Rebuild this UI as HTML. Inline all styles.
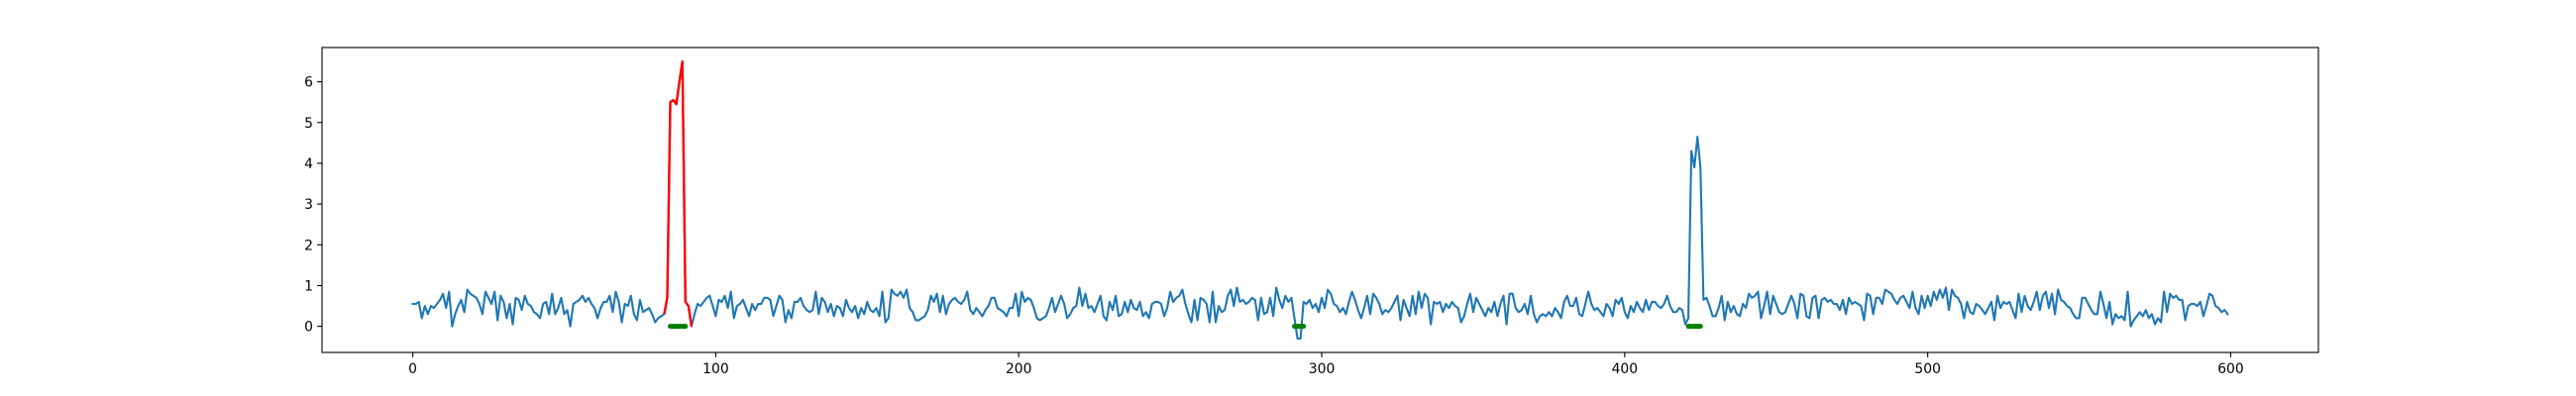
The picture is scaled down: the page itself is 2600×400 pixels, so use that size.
<!DOCTYPE html>
<html><head><meta charset="utf-8"><style>
html,body{margin:0;padding:0;background:#fff}
svg{display:block}
text{font-family:"DejaVu Sans","Liberation Sans",sans-serif;font-size:13.9px;fill:#000}
</style></head><body>
<svg id="chart" width="2600" height="400" xmlns="http://www.w3.org/2000/svg">
<rect x="0" y="0" width="2600" height="400" fill="#fff"/>
<g id="plot"></g>
</svg>
<script>
const values = [
.55,.55,.6,.2,.5,.3,.5,.45,.55,.65,
.8,.45,.85,0,.3,.5,.65,.35,.9,.8,
.75,.7,.55,.3,.85,.7,.55,.85,.15,.75,
.6,.2,.55,.05,.7,.65,.4,.75,.55,.5,
.35,.3,.2,.55,.6,.3,.8,.3,.45,.7,
.3,.4,0,.55,.6,.65,.75,.6,.7,.55,
.45,.2,.45,.6,.6,.75,.35,.85,.6,.1,
.55,.5,.75,.3,.15,.65,.35,.4,.45,.3,
.1,.2,.25,.3,.7,5.5,5.55,5.45,6.0,6.5,
.6,.5,0,.3,.55,.5,.6,.7,.75,.5,
.25,.65,.6,.75,.45,.85,.2,.5,.55,.65,
.45,.25,.55,.4,.55,.55,.7,.7,.65,.25,
.5,.75,.65,.1,.4,.2,.6,.6,.7,.5,
.4,.35,.4,.85,.3,.7,.6,.35,.55,.25,
.5,.45,.25,.65,.45,.35,.5,.2,.45,.3,
.6,.4,.35,.45,.25,.85,.1,.2,.9,.8,
.75,.85,.7,.9,.45,.35,.15,.15,.2,.25,
.4,.75,.6,.8,.35,.75,.3,.55,.65,.7,
.6,.55,.65,.85,.4,.3,.45,.35,.25,.4,
.5,.7,.7,.45,.4,.35,.25,.45,.45,.8,
.25,.85,.6,.7,.65,.45,.2,.15,.2,.25,
.45,.7,.35,.55,.75,.55,.2,.3,.45,.5,
.95,.5,.8,.45,.5,.35,.55,.75,.25,.15,
.6,.4,.75,.25,.3,.6,.35,.65,.45,.4,
.6,.25,.35,.2,.55,.6,.6,.55,.25,.45,
.85,.6,.7,.75,.9,.55,.3,.1,.65,.15,
.7,.65,.55,.1,.85,.1,.5,.35,.4,.75,
.9,.5,.95,.6,.65,.55,.6,.7,.65,.15,
.7,.3,.35,.7,.25,.95,.65,.45,.75,.6,
.7,.2,-.3,-.3,.6,.55,.65,.45,.55,.35,
.7,.45,.9,.8,.55,.5,.35,.45,.3,.6,
.85,.65,.4,.2,.45,.75,.3,.8,.7,.55,
.3,.4,.35,.45,.6,.75,.15,.65,.45,.25,
.75,.3,.85,.45,.8,.7,.05,.6,.55,.6,
.35,.55,.45,.6,.5,.45,.1,.25,.55,.8,
.35,.7,.55,.4,.25,.45,.35,.6,.25,.55,
.75,.05,.8,.8,.45,.35,.4,.55,.3,.75,
.3,.1,.25,.3,.25,.35,.25,.45,.35,.2,
.6,.75,.5,.5,.7,.3,.25,.55,.85,.55,
.4,.45,.35,.25,.55,.45,.25,.65,.55,.7,
.35,.2,.5,.35,.6,.45,.35,.65,.4,.6,
.6,.5,.45,.55,.75,.5,.35,.35,.45,.4,
.05,.2,4.3,3.9,4.65,3.9,.65,.7,.5,.25,
.25,.45,.75,.15,.6,.35,.5,.3,.25,.55,
.45,.8,.7,.75,.85,.2,.5,.85,.3,.75,
.55,.35,.3,.35,.55,.75,.55,.2,.8,.75,
.25,.2,.7,.75,.2,.65,.7,.6,.65,.55,
.55,.4,.65,.3,.7,.55,.6,.55,.5,.15,
.8,.75,.3,.7,.7,.55,.9,.85,.8,.65,
.55,.7,.75,.6,.45,.85,.45,.3,.75,.45,
.75,.5,.85,.65,.9,.7,.95,.4,.9,.75,
.7,.55,.2,.6,.35,.3,.55,.5,.4,.3,
.45,.6,.15,.75,.45,.6,.55,.6,.4,.2,
.8,.35,.75,.5,.4,.6,.85,.4,.75,.85,
.45,.8,.3,.9,.65,.6,.5,.45,.3,.2,
.2,.7,.7,.55,.4,.3,.3,.85,.55,.2,
.6,.05,.3,.2,.25,.15,.85,0,.15,.25,
.35,.25,.4,.2,.3,.05,.2,.1,.85,.35,
.8,.7,.75,.65,.65,.15,.5,.55,.55,.5,
.6,.25,.5,.8,.75,.5,.45,.35,.4,.3
];
const redStart = [83];
const redEnd = [92];
const greenStart = [85, 291, 421];
const greenEnd = [90, 294, 425];
const xTicks = [0,100,200,300,400,500,600];
const yTicks = [0,1,2,3,4,5,6];

const L=325,R=2340,T=48,B=356;
const n=values.length;
const xmin=-0.05*(n-1), xmax=(n-1)*1.05;
const vmin=Math.min(...values), vmax=Math.max(...values), pad=(vmax-vmin)*0.05;
const ymin=vmin-pad, ymax=vmax+pad;
const sx=v=>L+(v-xmin)/(xmax-xmin)*(R-L);
const sy=v=>B-(v-ymin)/(ymax-ymin)*(B-T);
const NS='http://www.w3.org/2000/svg';
const g=document.getElementById('plot');
function mk(tag,attrs){const e=document.createElementNS(NS,tag);for(const k in attrs)e.setAttribute(k,attrs[k]);g.appendChild(e);return e;}

let d='';
values.forEach((v,i)=>{d+=(i?'L':'M')+sx(i).toFixed(2)+','+sy(v).toFixed(2);});
const line=mk('path',{d:d,fill:'none',stroke:'#1f77b4','stroke-width':2.1,'stroke-linejoin':'round','stroke-linecap':'square'});



redStart.forEach((s,k)=>{
  let p='';
  for(let i=s;i<=redEnd[k];i++)p+=(i===s?'M':'L')+sx(i).toFixed(2)+','+sy(values[i]).toFixed(2);
  const r=mk('path',{d:p,fill:'none',stroke:'#ff0000','stroke-width':2.4,'stroke-linejoin':'round'});
  
  
});
greenStart.forEach((s,k)=>{
  const gl=mk('line',{x1:sx(s),x2:sx(greenEnd[k]),y1:sy(0),y2:sy(0),stroke:'#008000','stroke-width':5,'stroke-linecap':'round'});
  
  
});

const frame=mk('rect',{x:L,y:T,width:R-L,height:B-T,fill:'none',stroke:'#000','stroke-width':1.1});



xTicks.forEach(t=>{
  const x=sx(t);
  const tk=mk('line',{x1:x,x2:x,y1:B,y2:B+4.9,stroke:'#000','stroke-width':1.1});
  
  
  const tx=mk('text',{x:x,y:B+21,'text-anchor':'middle'});
  tx.textContent=t;
  
  
});
yTicks.forEach(t=>{
  const y=sy(t);
  const tk=mk('line',{x1:L-4.9,x2:L,y1:y,y2:y,stroke:'#000','stroke-width':1.1});
  
  
  const tx=mk('text',{x:L-9,y:y+5,'text-anchor':'end'});
  tx.textContent=t;
  
  
});
</script>
</body></html>
